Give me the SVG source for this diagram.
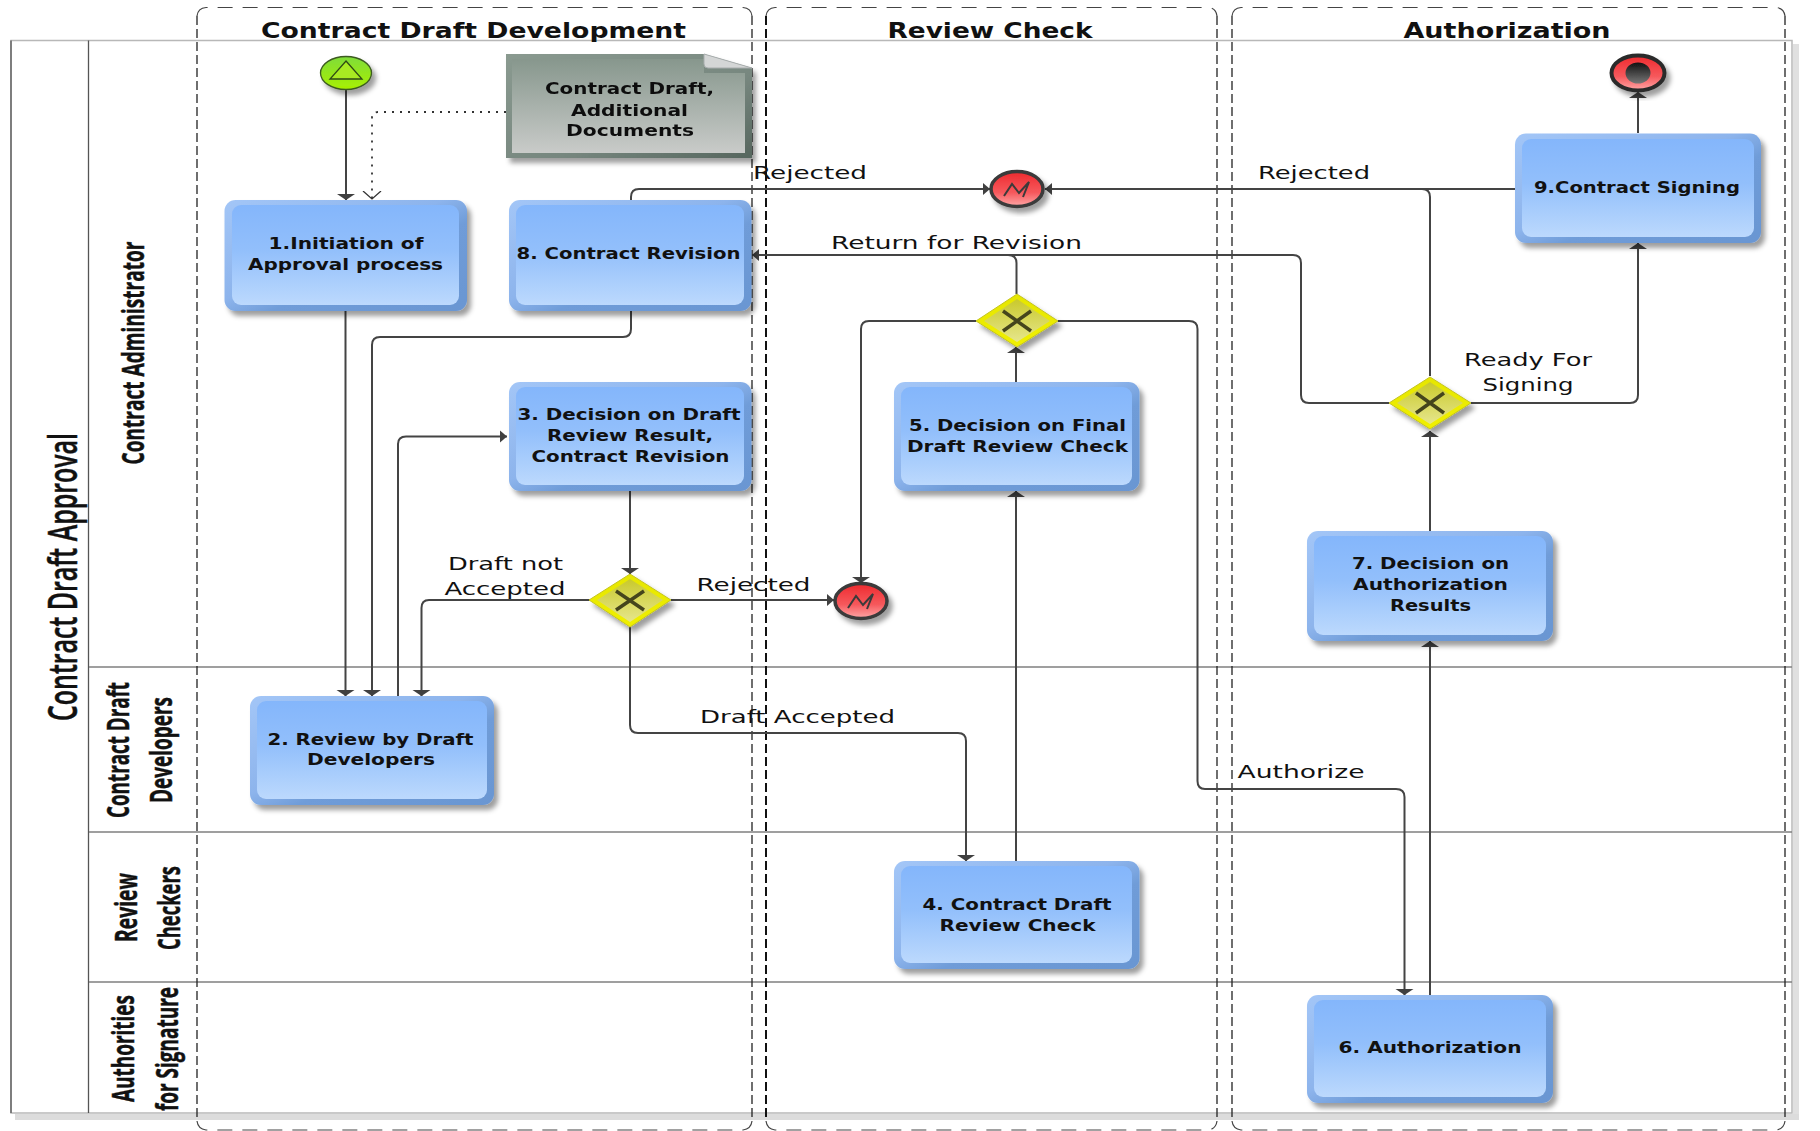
<svg xmlns="http://www.w3.org/2000/svg" width="1820" height="1131" viewBox="0 0 1820 1131">
<style>
text{font-family:"DejaVu Sans","Liberation Sans",sans-serif;text-anchor:middle;fill:#111}
.h{font-size:21px;font-weight:700}
.n{font-size:16.5px;font-weight:700}
.l{font-size:18px}
.r{font-family:"Open Sans","Liberation Sans",sans-serif;font-weight:700;font-size:31px;stroke:#111;stroke-width:.5}
.t{font-family:"Open Sans","Liberation Sans",sans-serif;font-weight:600;font-size:39px;stroke:#111;stroke-width:.5}
.lane{stroke:#808080;stroke-width:1.5;fill:none}
.dv{fill:none;stroke:#222;stroke-width:1.3;stroke-dasharray:9 4}
.dh{fill:none;stroke:#444;stroke-width:1.2;stroke-dasharray:15 10}
.c{fill:none;stroke:#444;stroke-width:2;marker-end:url(#a)}
.cv{fill:none;stroke:#444;stroke-width:2;marker-end:url(#v)}
.c0{fill:none;stroke:#444;stroke-width:2}
.d{fill:none;stroke:#333;stroke-width:1.8;stroke-dasharray:2 6;marker-end:url(#o)}
.bo{fill:url(#bo)}
.bi{fill:url(#bi)}
.go{fill:url(#go);stroke:#c4c420;stroke-width:1}
.gi{fill:url(#gi)}
.x{stroke:#45451c;stroke-width:3.5;fill:none}
.e{fill:url(#er);stroke:#3a3a3a;stroke-width:3.5}
.z{fill:none;stroke:#3a3a3a;stroke-width:2}
</style>
<defs>
<linearGradient id="bo" x1="0" y1="0" x2="1" y2="1"><stop offset="0" stop-color="#a3c6f7"/><stop offset=".45" stop-color="#8db4ec"/><stop offset=".6" stop-color="#6f9cd8"/><stop offset="1" stop-color="#6a96d2"/></linearGradient>
<linearGradient id="bi" x1="0" y1="0" x2="0" y2="1"><stop offset="0" stop-color="#84b6fb"/><stop offset=".45" stop-color="#92bffb"/><stop offset="1" stop-color="#bcd9fd"/></linearGradient>
<linearGradient id="go" x1="0" y1="0" x2="0" y2="1"><stop offset="0" stop-color="#e6e600"/><stop offset="1" stop-color="#f0f000"/></linearGradient>
<linearGradient id="gi" x1="0" y1="0" x2="0" y2="1"><stop offset="0" stop-color="#c9c92c"/><stop offset="1" stop-color="#e6e68c"/></linearGradient>
<linearGradient id="er" x1="0" y1="0" x2="0" y2="1"><stop offset="0" stop-color="#ee2a2e"/><stop offset=".6" stop-color="#f6585c"/><stop offset="1" stop-color="#ffa8a8"/></linearGradient>
<linearGradient id="st" x1="0" y1="0" x2="0" y2="1"><stop offset="0" stop-color="#7fdc3a"/><stop offset="1" stop-color="#a8f000"/></linearGradient>
<linearGradient id="blk" x1="0" y1="0" x2="0" y2="1"><stop offset="0" stop-color="#111"/><stop offset="1" stop-color="#777"/></linearGradient>
<linearGradient id="doc" x1="0" y1="0" x2="0" y2="1"><stop offset="0" stop-color="#87978d"/><stop offset="1" stop-color="#c9cbc9"/></linearGradient>
<linearGradient id="docb" x1="0" y1="0" x2="1" y2="1"><stop offset="0" stop-color="#8a9a90"/><stop offset=".6" stop-color="#77877f"/><stop offset="1" stop-color="#56665e"/></linearGradient>
<filter id="s" x="-20%" y="-20%" width="150%" height="150%"><feDropShadow dx="4" dy="5" stdDeviation="2.500" flood-color="#000" flood-opacity=".38"/></filter>
<marker id="a" markerUnits="userSpaceOnUse" markerWidth="9" markerHeight="14" refX="7" refY="7" orient="auto"><path d="M0 1L7 7L0 13Z" fill="#404040"/></marker>
<marker id="v" markerUnits="userSpaceOnUse" markerWidth="8" markerHeight="20" refX="6" refY="10" orient="auto"><path d="M0 1L6 10L0 19Z" fill="#404040"/></marker>
<marker id="o" markerUnits="userSpaceOnUse" markerWidth="10" markerHeight="20" refX="8" refY="10" orient="auto"><path d="M0 1L8 10L0 19" fill="none" stroke="#333" stroke-width="1.300"/></marker>
</defs>
<rect width="1820" height="1131" fill="#fff"/>

<g id="pool">
<rect x="1793" y="44" width="6" height="1076" fill="#e0e0e0"/>
<rect x="15" y="1114" width="1784" height="6" fill="#dcdcdc"/>
<path d="M11 40.500H1792V1113H11Z" fill="none" stroke="#b8b8b8" stroke-width="1.500"/>
<path d="M11 40.500V1113" fill="none" stroke="#555" stroke-width="1.300"/>
<path d="M88.500 40.500V1113" fill="none" stroke="#555" stroke-width="1.300"/>
<path class="lane" d="M89 667H1792M89 832H1792M89 982H1792"/>
<text class="t" transform="translate(77,577) rotate(-90)" textLength="288" lengthAdjust="spacingAndGlyphs">Contract Draft Approval</text>
<text class="r" transform="translate(144,353) rotate(-90)" textLength="223" lengthAdjust="spacingAndGlyphs">Contract Administrator</text>
<text class="r" transform="translate(129,750) rotate(-90)" textLength="136" lengthAdjust="spacingAndGlyphs">Contract Draft</text>
<text class="r" transform="translate(172,750) rotate(-90)" textLength="106" lengthAdjust="spacingAndGlyphs">Developers</text>
<text class="r" transform="translate(137,907.500) rotate(-90)" textLength="69" lengthAdjust="spacingAndGlyphs">Review</text>
<text class="r" transform="translate(180,908) rotate(-90)" textLength="84" lengthAdjust="spacingAndGlyphs">Checkers</text>
<text class="r" transform="translate(134,1048.500) rotate(-90)" textLength="107" lengthAdjust="spacingAndGlyphs">Authorities</text>
<text class="r" transform="translate(178,1049) rotate(-90)" textLength="124" lengthAdjust="spacingAndGlyphs">for Signature</text>
</g>

<g id="phases">
<path class="dv" d="M197 16V1121M752 16V1121"/>
<path class="dv" style="stroke-width:2;stroke:#111" d="M766 16V1121"/>
<path class="dv" d="M1217 16V1121M1232 16V1121M1785 16V1121"/>
<path class="dh" d="M197 16Q198 8 206 7.500H743Q751 8 752 16M197 1121Q198 1129 206 1130H743Q751 1129 752 1121"/>
<path class="dh" d="M766 16Q767 8 775 7.500H1208Q1216 8 1217 16M766 1121Q767 1129 775 1130H1208Q1216 1129 1217 1121"/>
<path class="dh" d="M1232 16Q1233 8 1241 7.500H1776Q1784 8 1785 16M1232 1121Q1233 1129 1241 1130H1776Q1784 1129 1785 1121"/>
<text class="h" x="473.500" y="37.500" textLength="425" lengthAdjust="spacingAndGlyphs">Contract Draft Development</text>
<text class="h" x="990" y="37.500" textLength="205" lengthAdjust="spacingAndGlyphs">Review Check</text>
<text class="h" x="1507" y="37.500" textLength="207" lengthAdjust="spacingAndGlyphs">Authorization</text>
</g>

<g id="connectors">
<path class="cv" d="M346 90V200"/>
<path class="d" d="M506 112H378Q372 112 372 118V199"/>
<path class="cv" d="M345.500 311V696"/>
<path class="cv" d="M631 311V329Q631 337 623 337H380Q372 337 372 345V696"/>
<path class="c" d="M398 696V444Q398 436.500 406 436.500H507"/>
<path class="cv" d="M630 491V574"/>
<path class="cv" d="M590 600H429Q421.500 600 421.500 608V696"/>
<path class="c" d="M671 600H834"/>
<path class="cv" d="M630 627V725Q630 733 638 733H958Q966 733 966 741V861"/>
<path class="cv" d="M1016 861V491"/>
<path class="cv" d="M1016 382V347"/>
<path class="cv" d="M976 321H869Q861 321 861 329V583"/>
<path class="c" d="M1016.500 294V263Q1016.500 255 1008 255H752"/>
<path class="cv" d="M1058 321H1189Q1197.500 321 1197.500 329V781Q1197.500 789 1205 789H1396Q1404.500 789 1404.500 797V995"/>
<path class="cv" d="M1430 995V641"/>
<path class="cv" d="M1430 531V431"/>
<path class="c0" d="M1389 403H1309Q1301 403 1301 395V263Q1301 255 1293 255H1008"/>
<path class="c0" d="M1430 376V197Q1430 189 1422 189H1300"/>
<path class="c" d="M1515 189H1045"/>
<path class="c" d="M631 200V197Q631 189 639 189H990"/>
<path class="cv" d="M1471 403H1630Q1638 403 1638 395V243"/>
<path class="cv" d="M1638 133V92"/>
</g>

<g id="connector-labels">
<text class="l" x="810" y="178.500" textLength="114" lengthAdjust="spacingAndGlyphs">Rejected</text>
<text class="l" x="1314" y="179" textLength="112" lengthAdjust="spacingAndGlyphs">Rejected</text>
<text class="l" x="956.500" y="248.500" textLength="251" lengthAdjust="spacingAndGlyphs">Return for Revision</text>
<text class="l" x="1528" y="365.500" textLength="128" lengthAdjust="spacingAndGlyphs">Ready For</text>
<text class="l" x="1528" y="391" textLength="91" lengthAdjust="spacingAndGlyphs">Signing</text>
<text class="l" x="505.500" y="570" textLength="115" lengthAdjust="spacingAndGlyphs">Draft not</text>
<text class="l" x="505" y="594.500" textLength="121" lengthAdjust="spacingAndGlyphs">Accepted</text>
<text class="l" x="753.500" y="590.500" textLength="114" lengthAdjust="spacingAndGlyphs">Rejected</text>
<text class="l" x="797.500" y="723" textLength="195" lengthAdjust="spacingAndGlyphs">Draft Accepted</text>
<text class="l" x="1301" y="778" textLength="127" lengthAdjust="spacingAndGlyphs">Authorize</text>
</g>

<g id="start" filter="url(#s)"><ellipse cx="346" cy="73" rx="25.500" ry="16.500" fill="url(#st)" stroke="#3c5a20" stroke-width="1.300"/><path d="M346 61L362 79H330Z" fill="#a8ea20" stroke="#2f4a16" stroke-width="1.300"/></g>
<g id="end" filter="url(#s)"><ellipse cx="1638" cy="73" rx="26.500" ry="17.500" fill="url(#er)" stroke="#2a2a2a" stroke-width="4"/><ellipse cx="1638" cy="73" rx="12.500" ry="10.500" fill="url(#blk)"/></g>

<g id="note" filter="url(#s)">
<path d="M506 54H704L752 68V158H506Z" fill="url(#docb)"/>
<path d="M512 59H704V73H745V153H512Z" fill="url(#doc)"/>
<path d="M704 54L752 68H708Q704 68 704 64Z" fill="#d4d6d6" stroke="#a8adad"/>
<text class="n" x="629.500" y="94" textLength="169" lengthAdjust="spacingAndGlyphs">Contract Draft,</text>
<text class="n" x="629.500" y="115.500" textLength="117" lengthAdjust="spacingAndGlyphs">Additional</text>
<text class="n" x="630" y="136" textLength="128" lengthAdjust="spacingAndGlyphs">Documents</text>
</g>

<g id="node1"><rect class="bo" filter="url(#s)" x="224.500" y="200" width="242.500" height="111" rx="11"/><rect class="bi" x="232" y="205" width="227" height="100" rx="9"/>
<text class="n" x="346" y="248.500" textLength="155" lengthAdjust="spacingAndGlyphs">1.Initiation of</text>
<text class="n" x="345.500" y="270" textLength="195" lengthAdjust="spacingAndGlyphs">Approval process</text></g>

<g id="node8"><rect class="bo" filter="url(#s)" x="509" y="200" width="242.500" height="111" rx="11"/><rect class="bi" x="516" y="205" width="228" height="100" rx="9"/>
<text class="n" x="628.500" y="259" textLength="224" lengthAdjust="spacingAndGlyphs">8. Contract Revision</text></g>

<g id="node3"><rect class="bo" filter="url(#s)" x="509" y="382" width="242.500" height="109" rx="11"/><rect class="bi" x="516" y="387" width="228" height="98" rx="9"/>
<text class="n" x="629" y="419.500" textLength="223" lengthAdjust="spacingAndGlyphs">3. Decision on Draft</text>
<text class="n" x="630" y="441" textLength="166" lengthAdjust="spacingAndGlyphs">Review Result,</text>
<text class="n" x="630.500" y="462" textLength="198" lengthAdjust="spacingAndGlyphs">Contract Revision</text></g>

<g id="node5"><rect class="bo" filter="url(#s)" x="894" y="382" width="245.500" height="109" rx="11"/><rect class="bi" x="901" y="387" width="231" height="98" rx="9"/>
<text class="n" x="1017.500" y="431" textLength="217" lengthAdjust="spacingAndGlyphs">5. Decision on Final</text>
<text class="n" x="1017.500" y="451.500" textLength="221" lengthAdjust="spacingAndGlyphs">Draft Review Check</text></g>

<g id="node9"><rect class="bo" filter="url(#s)" x="1515" y="133.500" width="246" height="109.500" rx="11"/><rect class="bi" x="1522" y="139" width="232" height="98" rx="9"/>
<text class="n" x="1637" y="193" textLength="206" lengthAdjust="spacingAndGlyphs">9.Contract Signing</text></g>

<g id="node7"><rect class="bo" filter="url(#s)" x="1307" y="531" width="246" height="110" rx="11"/><rect class="bi" x="1314" y="536" width="232" height="99" rx="9"/>
<text class="n" x="1430.500" y="568.500" textLength="157" lengthAdjust="spacingAndGlyphs">7. Decision on</text>
<text class="n" x="1430.500" y="590" textLength="155" lengthAdjust="spacingAndGlyphs">Authorization</text>
<text class="n" x="1430.500" y="610.500" textLength="81" lengthAdjust="spacingAndGlyphs">Results</text></g>

<g id="node2"><rect class="bo" filter="url(#s)" x="250" y="696" width="244" height="109" rx="11"/><rect class="bi" x="257" y="701" width="230" height="98" rx="9"/>
<text class="n" x="370.500" y="745" textLength="206" lengthAdjust="spacingAndGlyphs">2. Review by Draft</text>
<text class="n" x="371" y="765" textLength="128" lengthAdjust="spacingAndGlyphs">Developers</text></g>

<g id="node4"><rect class="bo" filter="url(#s)" x="894" y="861" width="245.500" height="108" rx="11"/><rect class="bi" x="901" y="866" width="231" height="97" rx="9"/>
<text class="n" x="1017" y="910" textLength="189" lengthAdjust="spacingAndGlyphs">4. Contract Draft</text>
<text class="n" x="1017.500" y="930.500" textLength="156" lengthAdjust="spacingAndGlyphs">Review Check</text></g>

<g id="node6"><rect class="bo" filter="url(#s)" x="1307" y="995" width="246" height="108" rx="11"/><rect class="bi" x="1314" y="1000" width="232" height="97" rx="9"/>
<text class="n" x="1430" y="1053" textLength="183" lengthAdjust="spacingAndGlyphs">6. Authorization</text></g>

<g id="gateway-draft"><path class="go" filter="url(#s)" d="M630 574L671 600L630 627L589 600Z"/><path class="gi" d="M630 579L663 600L630 622L597 600Z"/><path class="x" d="M616 591L644 610M644 591L616 610"/></g>
<g id="gateway-review"><path class="go" filter="url(#s)" d="M1017 294L1058 321L1017 347L976 321Z"/><path class="gi" d="M1017 299L1050 321L1017 342L984 321Z"/><path class="x" d="M1003 311L1031 331M1031 311L1003 331"/></g>
<g id="gateway-sign"><path class="go" filter="url(#s)" d="M1430 377L1471 403L1430 429L1389 403Z"/><path class="gi" d="M1430 382L1463 403L1430 424L1397 403Z"/><path class="x" d="M1416 393L1444 413M1444 393L1416 413"/></g>

<g id="error-top" filter="url(#s)"><ellipse class="e" cx="1017" cy="189" rx="26" ry="17.500"/><path class="z" d="M1004 196L1012 184L1019 193L1029 182L1023 197"/></g>
<g id="error-mid" filter="url(#s)"><ellipse class="e" cx="861" cy="601" rx="26" ry="17.500"/><path class="z" d="M848 608L856 596L863 605L873 594L867 609"/></g>
</svg>
